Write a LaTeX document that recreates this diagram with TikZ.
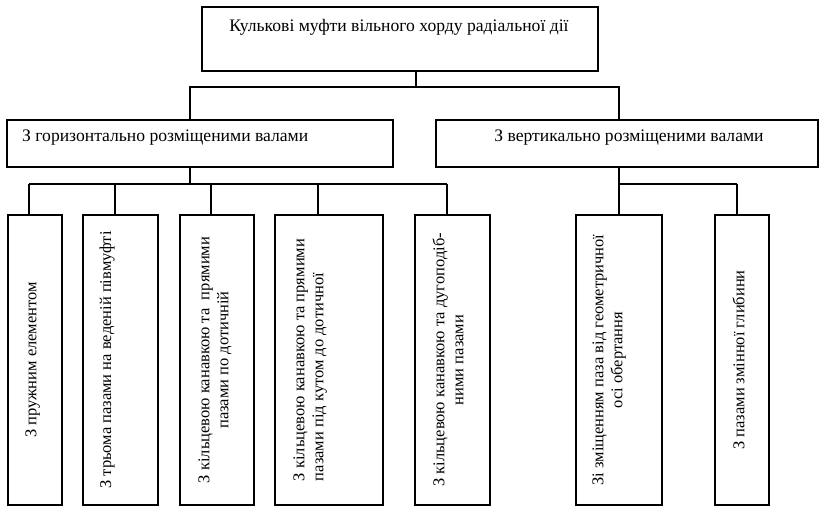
\documentclass[tikz,border=0pt]{standalone}
\usepackage{fontspec}
\setmainfont{Liberation Serif}
\usetikzlibrary{calc}
\begin{document}
\begin{tikzpicture}[x=1pt,y=1pt,
  box/.style={draw, line width=1.3pt, inner sep=0pt},
  conn/.style={line width=1.3pt},
  lbl/.style={font=\fontsize{17.6}{21}\selectfont, inner sep=0pt},
  vlbl/.style={font=\fontsize{16.5}{19}\selectfont, inner sep=0pt, rotate=90, anchor=north, align=center}]
\useasboundingbox (0,0) rectangle (821,-506);
% top
\node[box, minimum width=396pt, minimum height=64pt] (top) at (400,-39) {};
\node[lbl] (ttop) at (399,-27) {Кулькові муфти вільного хорду радіальної дії};
% level 1
\node[box, minimum width=386pt, minimum height=47pt] (L) at (200,-143.5) {};
\node[lbl, anchor=west] (tL) at (22,-138) {З горизонтально розміщеними валами};
\node[box, minimum width=382pt, minimum height=47pt] (R) at (627,-143.5) {};
\node[lbl] (tR) at (629,-138) {З вертикально розміщеними валами};
% bottom boxes
\node[box, minimum width=54pt, minimum height=290pt] (b1) at (35,-360) {};
\node[box, minimum width=75pt, minimum height=290pt] (b2) at (120.5,-360) {};
\node[box, minimum width=74pt, minimum height=290pt] (b3) at (217,-360) {};
\node[box, minimum width=108pt, minimum height=290pt] (b4) at (329,-360) {};
\node[box, minimum width=75pt, minimum height=290pt] (b5) at (452.5,-360) {};
\node[box, minimum width=86pt, minimum height=290pt] (b6) at (619,-360) {};
\node[box, minimum width=54pt, minimum height=290pt] (b7) at (742,-360) {};
\node[vlbl] (t1) at ($(b1.west)+(18,0)$) {З пружним елементом};
\node[vlbl] (t2) at ($(b2.west)+(17,0)$) {З трьома пазами на веденій півмуфті};
\node[vlbl] (t3) at ($(b3.west)+(19,0)$) {З кільцевою канавкою та \ прямими\\пазами по дотичній};
\node[vlbl] (t4) at ($(b4.west)+(19,0)$) {З кільцевою канавкою та прямими\\пазами під кутом до дотичної\hspace*{34pt}};
\node[vlbl] (t5) at ($(b5.west)+(18,0)$) {З кільцевою канавкою та дугоподіб-\\ними пазами};
\node[vlbl] (t6) at ($(b6.west)+(17,0)$) {Зі зміщенням паза від геометричної\\осі обертання};
\node[vlbl] (t7) at ($(b7.west)+(18,0)$) {З пазами змінної глибини};
% junctions
\coordinate (j0) at (416,-87);
\coordinate (jL) at (190,-87);
\coordinate (jR) at (619,-87);
\coordinate (kL) at (190,-184);
\coordinate (kR) at (619,-184);
\coordinate (d1) at (29,-184);
\coordinate (d2) at (115,-184);
\coordinate (d3) at (211,-184);
\coordinate (d4) at (318,-184);
\coordinate (d5) at (447,-184);
\coordinate (d6) at (619,-184);
\coordinate (d7) at (737,-184);
% connectors
\draw[conn] (j0 |- top.south) -- (j0);
\draw[conn] (jL |- L.north) -- (jL) -- (jR) -- (jR |- R.north);
\draw[conn] (kL |- L.south) -- (kL);
\draw[conn] (kR |- R.south) -- (kR);
\draw[conn] (d1) -- (d5);
\draw[conn] (d6) -- (d7);
\foreach \i in {1,...,7} {\draw[conn] (d\i) -- (d\i |- b\i.north);}
\end{tikzpicture}
\end{document}
